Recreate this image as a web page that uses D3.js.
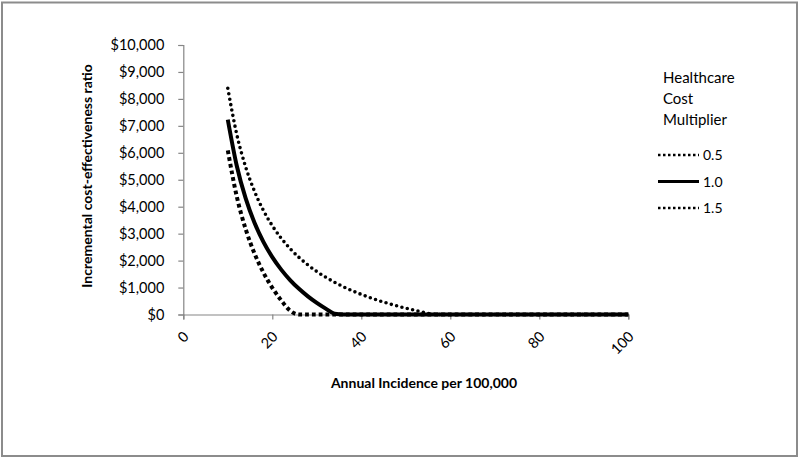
<!doctype html>
<meta charset="utf-8">
<title>ICER vs incidence</title>
<script src="https://cdn.jsdelivr.net/npm/d3@7/dist/d3.min.js"></script>
<style>
    body { margin: 0; background: #fff; }
    text { font-family: Lato, "Open Sans", sans-serif; fill: #000; }
</style>
<body>
<div id="chart"></div>
<script>

    // annual incidence per 100,000 (x values)
    var incidence = [10, 12, 14, 16, 18, 20, 22, 24, 26, 28, 30, 32, 34, 36, 38, 40,
                     42, 44, 46, 48, 50, 52, 54, 56, 58, 60, 100];

    // ICER, one list per multiplier
    var icer05 = [8395, 6695, 5481, 4570, 3862, 3295, 2831, 2445, 2118, 1838, 1595, 1383, 1195, 1028, 879, 745,
                  624, 513, 412, 320, 235, 157, 84, 16, 0, 0, 0];
    var icer10 = [7229, 5529, 4315, 3404, 2696, 2129, 1665, 1279, 952, 672, 429, 217, 29, 0, 0, 0,
                  0, 0, 0, 0, 0, 0, 0, 0, 0, 0, 0];
    var icer15 = [6090, 4390, 3176, 2265, 1557, 990, 526, 140, 0, 0, 0, 0, 0, 0, 0, 0,
                  0, 0, 0, 0, 0, 0, 0, 0, 0, 0, 0];

    var seriesNames = ["0.5", "1.0", "1.5"];
    var xTicks = [0, 20, 40, 60, 80, 100];
    var yTicks = [0, 1000, 2000, 3000, 4000, 5000, 6000, 7000, 8000, 9000, 10000];

    var width = 800, height = 459;

    var svg = d3.select('#chart').append('svg')
            .attr('width', width)
            .attr('height', height);

    // outer frame
    svg.append('rect')
            .attr('x', 2).attr('y', 2.5)
            .attr('width', 795).attr('height', 453.5)
            .attr('fill', 'none')
            .attr('stroke', '#8c8c8c')
            .attr('stroke-width', 2);

    var x = d3.scaleLinear().domain([0, 100]).range([183.3, 628.3]);
    var y = d3.scaleLinear().domain([0, 10000]).range([314.5, 45]);

    // y axis
    var yAxis = svg.append('g')
            .attr('transform', 'translate(' + x(0) + ',0)')
            .call(d3.axisLeft(y).tickValues(yTicks).tickSize(5).tickPadding(14)
                    .tickFormat(function(d) { return '$' + d3.format(',')(d); }));
    yAxis.select('.domain').attr('stroke', '#868686').attr('stroke-width', 1.2);
    yAxis.selectAll('.tick line').attr('stroke', '#868686').attr('stroke-width', 1.2);
    yAxis.selectAll('.tick text')
            .style('font-family', 'Lato, sans-serif')
            .style('font-size', '14.5px')
            .attr('fill', '#000');

    // x axis
    var xAxis = svg.append('g')
            .attr('transform', 'translate(0,' + y(0) + ')')
            .call(d3.axisBottom(x).tickValues(xTicks).tickSize(5).tickFormat(d3.format('d')));
    xAxis.select('.domain').attr('stroke', '#868686').attr('stroke-width', 1.2);
    xAxis.selectAll('.tick line').attr('stroke', '#868686').attr('stroke-width', 1.2);
    xAxis.selectAll('.tick text')
            .style('font-family', 'Lato, sans-serif')
            .style('font-size', '14.5px')
            .attr('fill', '#000')
            .attr('text-anchor', 'end')
            .attr('dy', null)
            .attr('y', 0)
            .attr('transform', 'translate(6,23) rotate(-45)');

    // axis titles
    svg.append('text')
            .attr('x', 424).attr('y', 388)
            .attr('text-anchor', 'middle')
            .style('font-size', '14px')
            .style('font-weight', 'bold')
            .text('Annual Incidence per 100,000');

    svg.append('text')
            .attr('transform', 'translate(92,176) rotate(-90)')
            .attr('text-anchor', 'middle')
            .style('font-size', '14px')
            .style('font-weight', 'bold')
            .text('Incremental cost-effectiveness ratio');

    // series (solid line drawn last so the shared zero stretch looks solid)
    var styles = [
        { dash: '0,5.5', cap: 'round', w: 3.6 },
        { dash: null, cap: 'butt', w: 4 },
        { dash: '3.8,3', cap: 'butt', w: 4 }
    ];
    var allSeries = [icer05, icer10, icer15];
    var drawOrder = [0, 2, 1];

    var line = d3.line()
            .x(function(d, i) { return x(incidence[i]); })
            .y(function(d) { return y(d); })
            .curve(d3.curveMonotoneX);

    svg.selectAll('path.series')
            .data(drawOrder)
            .enter().append('path')
            .classed('series', true)
            .attr('d', function(k) { return line(allSeries[k]); })
            .attr('fill', 'none')
            .attr('stroke', '#000')
            .attr('stroke-width', function(k) { return styles[k].w; })
            .attr('stroke-linecap', function(k) { return styles[k].cap; })
            .attr('stroke-dasharray', function(k) { return styles[k].dash; });

    // legend
    var lg = svg.append('g');
    ['Healthcare', 'Cost', 'Multiplier'].forEach(function(t, i) {
        lg.append('text')
                .attr('x', 663).attr('y', 83 + i * 21)
                .style('font-size', '15px')
                .text(t);
    });

    var legendDash = ['2.5,2.5', null, '2.5,2.5'];
    seriesNames.forEach(function(name, i) {
        var ly = 155 + i * 26.5;
        lg.append('line')
                .attr('x1', 658).attr('x2', 699)
                .attr('y1', ly).attr('y2', ly)
                .attr('stroke', '#000')
                .attr('stroke-width', i === 1 ? 3 : 2.5)
                .attr('stroke-dasharray', legendDash[i]);
        lg.append('text')
                .attr('x', 703).attr('y', ly + 5)
                .style('font-size', '14px')
                .text(name);
    });

</script>
</body>
